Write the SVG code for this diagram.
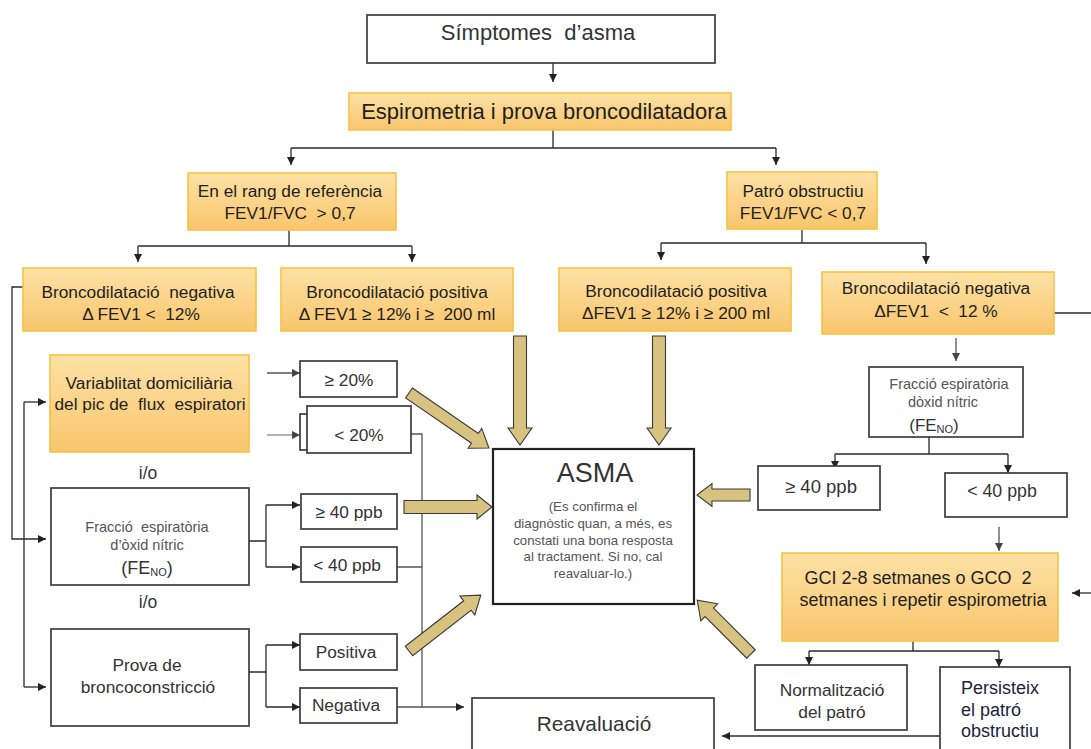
<svg xmlns="http://www.w3.org/2000/svg" width="1091" height="749" viewBox="0 0 1091 749">
  <defs>
    <linearGradient id="og" x1="0" y1="0" x2="0" y2="1">
      <stop offset="0" stop-color="#fde2a6"/>
      <stop offset="1" stop-color="#f9c56c"/>
    </linearGradient>
    <marker id="ah" markerUnits="userSpaceOnUse" markerWidth="9" markerHeight="9" refX="8" refY="4" orient="auto">
      <path d="M0,0 L8,4 L0,8 z" fill="#222"/>
    </marker>
    <marker id="ahg" markerUnits="userSpaceOnUse" markerWidth="9" markerHeight="9" refX="8" refY="4" orient="auto">
      <path d="M0,0 L8,4 L0,8 z" fill="#444"/>
    </marker>
  </defs>
  <style>
    .box { fill: #ffffff; stroke: #3c3c3c; stroke-width: 1.7; }
    .asma { fill: #ffffff; stroke: #222; stroke-width: 2.2; }
    .obox { fill: url(#og); stroke: #f6c445; stroke-width: 1.6; }
    .ln { fill: none; stroke: #2a2a2a; stroke-width: 1.3; }
    .lg { fill: none; stroke: #555; stroke-width: 1.3; }
    .lgl { fill: none; stroke: #999; stroke-width: 1.5; }
    .big { fill: #d7c27f; stroke: #3a3a3a; stroke-width: 1.1; }
    text { font-family: "Liberation Sans", Arial, sans-serif; fill: #333; text-anchor: middle; white-space: pre; }
    .t17 { font-size: 17.3px; }
    .t21 { font-size: 21px; }
    .dk { fill: #1f1f1f; }
    .sm { font-size: 14.5px; fill: #555; }
    .xs { font-size: 13.3px; fill: #555; }
    .nv { fill: #1d2238; text-anchor: start; font-size: 18px; }
  </style>

  <!-- connectors -->
  <g id="connectors">
    <path class="ln" d="M553,63 V82" marker-end="url(#ah)"/>
    <path class="ln" d="M553,130 V148 M291,148 H776"/>
    <path class="ln" d="M291,148 V165" marker-end="url(#ah)"/>
    <path class="ln" d="M776,148 V165" marker-end="url(#ah)"/>

    <path class="ln" d="M289,230 V246 M138,246 H412"/>
    <path class="ln" d="M138,246 V262" marker-end="url(#ah)"/>
    <path class="ln" d="M412,246 V262" marker-end="url(#ah)"/>

    <path class="ln" d="M802,230 V243 M661,243 H926"/>
    <path class="ln" d="M661,243 V260" marker-end="url(#ah)"/>
    <path class="ln" d="M926,243 V264" marker-end="url(#ah)"/>

    <!-- left brackets -->
    <path class="ln" d="M23,287 H12 V539 H46" marker-end="url(#ah)"/>
    <path class="ln" d="M24,402 V687"/>
    <path class="ln" d="M24,402 H46" marker-end="url(#ah)"/>
    <path class="ln" d="M24,687 H46" marker-end="url(#ah)"/>

    <!-- variability outcomes -->
    <path class="lg" d="M267,373 H300" marker-end="url(#ahg)"/>
    <path class="lgl" d="M267,435 H300" marker-end="url(#ahg)"/>

    <!-- FeNO outcomes -->
    <path class="ln" d="M249,541 H266 M266,505 V567"/>
    <path class="ln" d="M266,505 H300" marker-end="url(#ah)"/>
    <path class="ln" d="M266,567 H300" marker-end="url(#ah)"/>

    <!-- bronchoconstriction outcomes -->
    <path class="ln" d="M249,672 H266 M266,645 V707"/>
    <path class="ln" d="M266,645 H300" marker-end="url(#ah)"/>
    <path class="ln" d="M266,707 H300" marker-end="url(#ah)"/>

    <!-- negative results to re-evaluation -->
    <path class="lg" d="M411,434 H422 V707 M397,567 H422"/>
    <path class="lg" d="M397,707 H464" marker-end="url(#ah)"/>

    <!-- right branch -->
    <path class="lg" d="M956,338 V361" marker-end="url(#ahg)"/>
    <path class="ln" d="M929,437 V454 M835,454 H1008"/>
    <path class="ln" d="M835,454 V469" marker-end="url(#ah)"/>
    <path class="ln" d="M1008,454 V473" marker-end="url(#ah)"/>
    <path class="lg" d="M999,527 V551" marker-end="url(#ahg)"/>
    <path class="ln" d="M1054,313 H1091"/>
    <path class="ln" d="M1091,593 H1072" marker-end="url(#ah)"/>
    <path class="ln" d="M913,641 V651 M809,651 H999"/>
    <path class="ln" d="M809,651 V665" marker-end="url(#ah)"/>
    <path class="ln" d="M999,651 V667" marker-end="url(#ah)"/>
    <path class="ln" d="M940,736 H722" marker-end="url(#ah)"/>

    <!-- block arrows into ASMA -->
    <path class="big" transform="translate(520,336) rotate(90)" d="M0,-6.5 H92 V-12 L109,0 L92,12 V6.5 H0 Z"/>
    <path class="big" transform="translate(659,336) rotate(90)" d="M0,-6.5 H92 V-12 L109,0 L92,12 V6.5 H0 Z"/>
    <path class="big" transform="translate(409,393) rotate(34.5)" d="M0,-6 H80 V-12 L97,0 L80,12 V6 H0 Z"/>
    <path class="big" transform="translate(404,507)" d="M0,-6.5 H73 V-12 L88,0 L73,12 V6.5 H0 Z"/>
    <path class="big" transform="translate(409,651) rotate(-37.9)" d="M0,-6 H74 V-12 L91,0 L74,12 V6 H0 Z"/>
    <path class="big" transform="translate(750,495) rotate(180)" d="M0,-6 H38 V-11.5 L53,0 L38,11.5 V6 H0 Z"/>
    <path class="big" transform="translate(751,654) rotate(-135)" d="M0,-6 H59 V-12 L76,0 L59,12 V6 H0 Z"/>
  </g>

  <!-- nodes -->
  <g id="simptomes">
    <rect class="box" x="367" y="15" width="348" height="48"/>
    <text font-size="22" x="538" y="40">Símptomes  d’asma</text>
  </g>
  <g id="espirometria">
    <rect class="obox" x="349" y="93" width="382" height="37"/>
    <text class="dk" font-size="22" x="544" y="119">Espirometria i prova broncodilatadora</text>
  </g>
  <g id="rang-referencia">
    <rect class="obox" x="188" y="173" width="208" height="57"/>
    <text class="t17 dk" x="290" y="197">En el rang de referència</text>
    <text class="t17 dk" x="290" y="219">FEV1/FVC  &gt; 0,7</text>
  </g>
  <g id="patro-obstructiu">
    <rect class="obox" x="727" y="172" width="150" height="57"/>
    <text class="t17 dk" x="803" y="197">Patró obstructiu</text>
    <text class="t17 dk" x="803" y="219">FEV1/FVC &lt; 0,7</text>
  </g>
  <g id="bd-negativa-esq">
    <rect class="obox" x="23" y="268" width="233" height="63"/>
    <text class="t17 dk" x="138" y="298">Broncodilatació  negativa</text>
    <text class="t17 dk" x="141" y="320">Δ FEV1 &lt;  12%</text>
  </g>
  <g id="bd-positiva-esq">
    <rect class="obox" x="281" y="268" width="232" height="63"/>
    <text class="t17 dk" x="397" y="298">Broncodilatació positiva</text>
    <text class="t17 dk" x="397" y="320">Δ FEV1 ≥ 12% i ≥  200 ml</text>
  </g>
  <g id="bd-positiva-dre">
    <rect class="obox" x="559" y="268" width="232" height="63"/>
    <text class="t17 dk" x="676" y="297">Broncodilatació positiva</text>
    <text class="t17 dk" x="676" y="319">ΔFEV1 ≥ 12% i ≥ 200 ml</text>
  </g>
  <g id="bd-negativa-dre">
    <rect class="obox" x="822" y="272" width="232" height="62"/>
    <text class="t17 dk" x="936" y="294">Broncodilatació negativa</text>
    <text class="t17 dk" x="936" y="317">ΔFEV1  &lt;  12 %</text>
  </g>

  <g id="variabilitat">
    <rect class="obox" x="50" y="355" width="199" height="97"/>
    <text class="t17 dk" x="149" y="389">Variablitat domiciliària</text>
    <text class="t17 dk" x="150" y="410">del pic de  flux  espiratori</text>
  </g>
  <text font-size="17.5" x="148" y="479">i/o</text>
  <g id="feno-esq">
    <rect class="box" x="51" y="488" width="198" height="97"/>
    <text class="sm" x="147" y="532">Fracció  espiratòria</text>
    <text class="sm" x="147" y="550">d’òxid nítric</text>
    <text font-size="18" x="147" y="574">(FE<tspan font-size="11" dy="2">NO</tspan><tspan dy="-2">)</tspan></text>
  </g>
  <text font-size="17.5" x="148" y="608">i/o</text>
  <g id="broncoconstriccio">
    <rect class="box" x="51" y="629" width="198" height="97"/>
    <text class="t17" x="147" y="671">Prova de</text>
    <text class="t17" x="148" y="693">broncoconstricció</text>
  </g>

  <g id="pef-alt">
    <rect class="box" x="300" y="361" width="97" height="36"/>
    <text class="t17" x="349" y="386">≥ 20%</text>
  </g>
  <g id="pef-baix">
    <rect class="box" x="300" y="414" width="10" height="36"/>
    <rect class="box" x="307" y="406" width="104" height="47"/>
    <text class="t17" x="359" y="441">&lt; 20%</text>
  </g>
  <g id="feno-alt-esq">
    <rect class="box" x="301" y="494" width="96" height="35"/>
    <text class="t17" x="349" y="518">≥ 40 ppb</text>
  </g>
  <g id="feno-baix-esq">
    <rect class="box" x="301" y="547" width="96" height="35"/>
    <text class="t17" x="347" y="571">&lt; 40 ppb</text>
  </g>
  <g id="positiva">
    <rect class="box" x="300" y="634" width="97" height="36"/>
    <text class="t17" x="346" y="658">Positiva</text>
  </g>
  <g id="negativa">
    <rect class="box" x="300" y="688" width="97" height="35"/>
    <text class="t17" x="346" y="711">Negativa</text>
  </g>

  <g id="asma">
    <rect class="asma" x="493" y="449" width="201" height="155"/>
    <text font-size="27" fill="#222" x="595" y="482">ASMA</text>
    <text class="xs" x="593" y="511">(Es confirma el</text>
    <text class="xs" x="593" y="528">diagnòstic quan, a més, es</text>
    <text class="xs" x="593" y="545">constati una bona resposta</text>
    <text class="xs" x="593" y="561">al tractament. Si no, cal</text>
    <text class="xs" x="593" y="578">reavaluar-lo.)</text>
  </g>

  <g id="reavaluacio">
    <rect class="box" x="472" y="698" width="242" height="60"/>
    <text font-size="20.8" x="594" y="731">Reavaluació</text>
  </g>

  <g id="feno-dre">
    <rect class="box" x="869" y="367" width="154" height="70"/>
    <text class="sm" x="949" y="389">Fracció espiratòria</text>
    <text class="sm" x="943" y="407">dòxid nítric</text>
    <text font-size="17" x="934" y="431">(FE<tspan font-size="11" dy="2">NO</tspan><tspan dy="-2">)</tspan></text>
  </g>
  <g id="feno-alt-dre">
    <rect class="box" x="758" y="466" width="122" height="44"/>
    <text font-size="18.5" x="821" y="493">≥ 40 ppb</text>
  </g>
  <g id="feno-baix-dre">
    <rect class="box" x="945" y="473" width="122" height="44"/>
    <text font-size="17.8" x="1002" y="497">&lt; 40 ppb</text>
  </g>
  <g id="gci">
    <rect class="obox" x="782" y="553" width="276" height="88"/>
    <text class="dk" font-size="18" x="918" y="584">GCI 2-8 setmanes o GCO  2</text>
    <text class="dk" font-size="18" x="923" y="606">setmanes i repetir espirometria</text>
  </g>
  <g id="normalitzacio">
    <rect class="box" x="755" y="665" width="152" height="65"/>
    <text class="t17" x="832" y="696">Normalització</text>
    <text class="t17" x="832" y="718">del patró</text>
  </g>
  <g id="persisteix">
    <rect class="box" x="940" y="667" width="130" height="90"/>
    <text class="nv" x="961" y="694">Persisteix</text>
    <text class="nv" x="961" y="716">el patró</text>
    <text class="nv" x="961" y="737">obstructiu</text>
  </g>
</svg>
